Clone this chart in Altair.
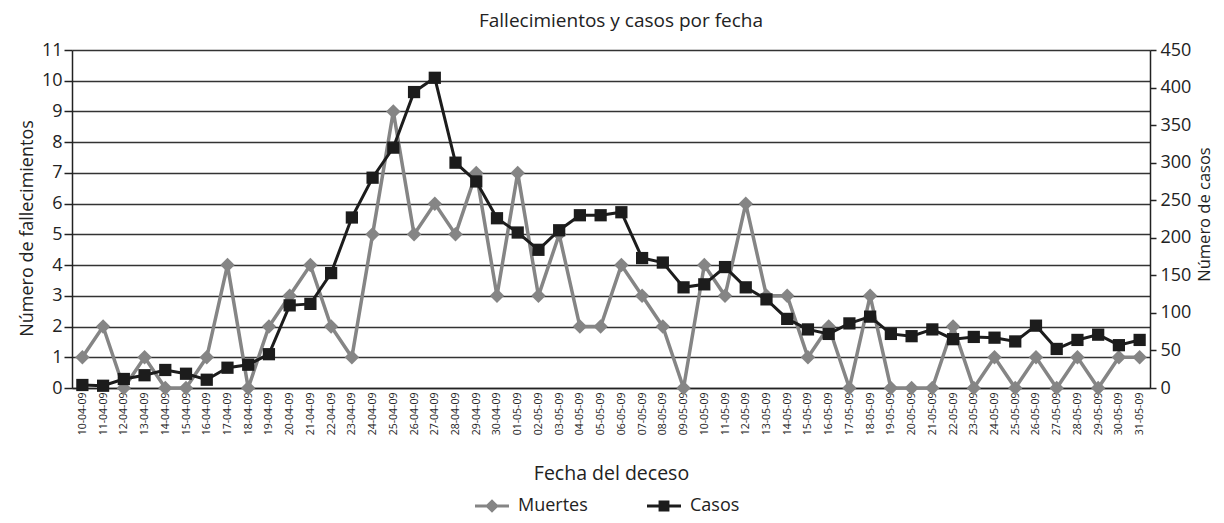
import altair as alt
import pandas as pd

fechas = [
    "10-04-09", "11-04-09", "12-04-09", "13-04-09", "14-04-09", "15-04-09", "16-04-09",
    "17-04-09", "18-04-09", "19-04-09", "20-04-09", "21-04-09", "22-04-09", "23-04-09",
    "24-04-09", "25-04-09", "26-04-09", "27-04-09", "28-04-09", "29-04-09", "30-04-09",
    "01-05-09", "02-05-09", "03-05-09", "04-05-09", "05-05-09", "06-05-09", "07-05-09",
    "08-05-09", "09-05-09", "10-05-09", "11-05-09", "12-05-09", "13-05-09", "14-05-09",
    "15-05-09", "16-05-09", "17-05-09", "18-05-09", "19-05-09", "20-05-09", "21-05-09",
    "22-05-09", "23-05-09", "24-05-09", "25-05-09", "26-05-09", "27-05-09", "28-05-09",
    "29-05-09", "30-05-09", "31-05-09",
]
muertes = [1, 2, 0, 1, 0, 0, 1, 4, 0, 2, 3, 4, 2, 1, 5, 9, 5, 6, 5, 7, 3,
           7, 3, 5, 2, 2, 4, 3, 2, 0, 4, 3, 6, 3, 3, 1, 2, 0, 3, 0, 0, 0,
           2, 0, 1, 0, 1, 0, 1, 0, 1, 1]
casos = [4, 3, 12, 17, 24, 19, 11, 27, 31, 45, 110, 112, 153, 227, 280, 320, 394, 413, 300, 275, 226,
         207, 184, 210, 230, 230, 234, 173, 167, 134, 138, 161, 134, 118, 92, 78, 72, 86, 95, 72,
         69, 78, 65, 68, 67, 62, 83, 52, 64, 71, 57, 64]
series = ["Muertes", "Casos"]
colores = ["#858585", "#1c1c1c"]
ticks_muertes = list(range(12))
ticks_casos = [0, 50, 100, 150, 200, 250, 300, 350, 400, 450]

df = pd.DataFrame({"fecha": fechas, "muertes": muertes, "casos": casos})

FONT = "Open Sans"
TXT = "#222222"

x = alt.X(
    "fecha:N", sort=fechas,
    scale=alt.Scale(type="point", padding=0.5),
    axis=alt.Axis(
        title="Fecha del deceso", labelAngle=270, labelAlign="right", labelBaseline="middle",
        labelFontSize=10.5, labelPadding=4, ticks=False, grid=False,
        domainColor=TXT, domainWidth=1.5, titleFontSize=19.5, titlePadding=30,
    ),
)

axis_left = alt.Axis(
    orient="left", values=ticks_muertes, title="Número de fallecimientos",
    grid=True, gridColor="#333333", gridWidth=1.5,
    domainColor=TXT, domainWidth=1.5, tickColor=TXT, tickWidth=1.5, tickSize=8,
    labelPadding=2, labelFontSize=18, titleFontSize=18,
    titleAngle=270, titleX=-45, titleY=178, titleAlign="center", titleBaseline="middle",
)
axis_right = alt.Axis(
    orient="right", values=ticks_casos, title="Número de casos", grid=False,
    domainColor=TXT, domainWidth=1.5, tickColor=TXT, tickWidth=1.5, tickSize=6,
    labelPadding=4, labelFontSize=18, titleFontSize=16.5,
    titleAngle=270, titleX=54, titleY=164, titleAlign="center", titleBaseline="middle",
)

yD = alt.Y("muertes:Q", scale=alt.Scale(domain=[0, 11], nice=False), axis=axis_left)
yC = alt.Y("casos:Q", scale=alt.Scale(domain=[0, 450], nice=False), axis=axis_right)

path_m = "M-1,-0.09L1,-0.09L1,0.09L-1,0.09Z M0,-0.4L0.4,0L0,0.4L-0.4,0Z"
path_c = "M-1,-0.09L1,-0.09L1,0.09L-1,0.09Z M-0.32,-0.32L0.32,-0.32L0.32,0.32L-0.32,0.32Z"

legend = alt.Legend(
    orient="none", legendX=403, legendY=439, direction="horizontal", title=None,
    symbolType=alt.ExprRef(expr=f"datum.value == 'Muertes' ? '{path_m}' : '{path_c}'"),
    symbolSize=1156, symbolStrokeWidth=0, labelFontSize=18, labelOffset=9,
    columnPadding=59, labelColor=TXT, labelFont=FONT,
)
color = alt.Color("serie:N", scale=alt.Scale(domain=series, range=colores), legend=legend)

base = alt.Chart()

lineD = base.mark_line(color=colores[0], strokeWidth=3.5).encode(x=x, y=yD)
ptD = base.mark_point(shape="diamond", filled=True, size=210, opacity=1).encode(
    x=x, y=yD, color=color).transform_calculate(serie="'Muertes'")
lineC = base.mark_line(color=colores[1], strokeWidth=3).encode(x=x, y=yC)
ptC = base.mark_point(shape="square", filled=True, size=150, opacity=1).encode(
    x=x, y=yC, color=color).transform_calculate(serie="'Casos'")

left = alt.layer(lineD, ptD)
right = alt.layer(lineC, ptC)

chart = alt.layer(left, right, data=df).resolve_scale(y="independent").properties(
    width=1078, height=338,
    autosize=alt.AutoSizeParams(type="none"),
    padding={"left": 64, "top": 42, "right": 66, "bottom": 128},
    title=alt.TitleParams("Fallecimientos y casos por fecha", fontSize=19, font=FONT,
                          fontWeight="normal", color=TXT, offset=10, anchor="middle", dx=10),
).configure_view(stroke=None).configure_axis(
    labelFont=FONT, titleFont=FONT, labelColor=TXT, titleColor=TXT, titleFontWeight="normal",
)

chart.save("out.html", embed_options={"renderer": "svg", "actions": False})
